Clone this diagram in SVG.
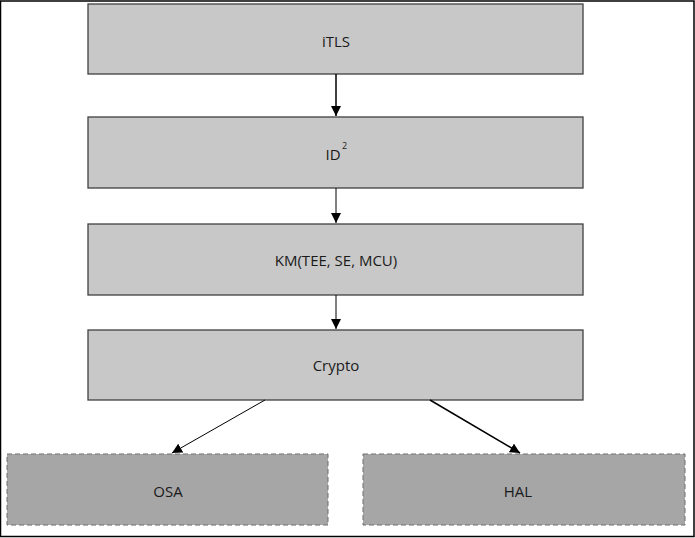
<svg xmlns="http://www.w3.org/2000/svg" width="695" height="538" viewBox="0 0 695 538">
<style>
.box{fill:#c8c8c8;stroke:#404040;stroke-width:1.3}
.ext{fill:#a6a6a6;stroke:#6e6e6e;stroke-width:1;stroke-dasharray:5 3}
.lbl{font-family:"Open Sans","Liberation Sans",sans-serif;font-size:15px;fill:#1a1a1a;text-anchor:middle;dominant-baseline:central}
.sup{font-family:"Open Sans","Liberation Sans",sans-serif;font-size:9px;fill:#1a1a1a}
.conn{stroke:#000;fill:none}
</style>
<defs>
<marker id="ah" viewBox="0 0 10 10" refX="10" refY="5" markerWidth="10" markerHeight="10" markerUnits="userSpaceOnUse" orient="auto">
<path d="M0,0 L10,5 L0,10 z" fill="#000"/>
</marker>
</defs>
<rect x="0.5" y="1" width="693.5" height="535.5" fill="#fff" stroke="#000" stroke-width="1.5"/>
<g id="itls"><rect class="box" x="88" y="4" width="495" height="70"/><text class="lbl" x="336" y="41">iTLS</text></g>
<g id="id2"><rect class="box" x="88" y="117" width="495" height="71"/><text class="lbl" x="333" y="154">ID</text><text class="sup" x="342" y="149">2</text></g>
<g id="km"><rect class="box" x="88" y="224" width="495" height="71"/><text class="lbl" x="336" y="260">KM(TEE, SE, MCU)</text></g>
<g id="crypto"><rect class="box" x="88" y="330" width="495" height="70"/><text class="lbl" x="336" y="365">Crypto</text></g>
<g id="osa"><rect class="ext" x="7" y="454" width="321" height="71"/><text class="lbl" x="168" y="491">OSA</text></g>
<g id="hal"><rect class="ext" x="363" y="454" width="322" height="71"/><text class="lbl" x="518" y="491">HAL</text></g>
<g id="connectors">
<line class="conn" x1="336" y1="74" x2="336" y2="116" stroke-width="1.5" marker-end="url(#ah)"/>
<line class="conn" x1="336" y1="188" x2="336" y2="223" stroke-width="1" marker-end="url(#ah)"/>
<line class="conn" x1="336" y1="295" x2="336" y2="329" stroke-width="1" marker-end="url(#ah)"/>
<line class="conn" x1="265" y1="400" x2="172" y2="453" stroke-width="1" marker-end="url(#ah)"/>
<line class="conn" x1="430" y1="400" x2="520" y2="453" stroke-width="1.5" marker-end="url(#ah)"/>
</g>
</svg>
